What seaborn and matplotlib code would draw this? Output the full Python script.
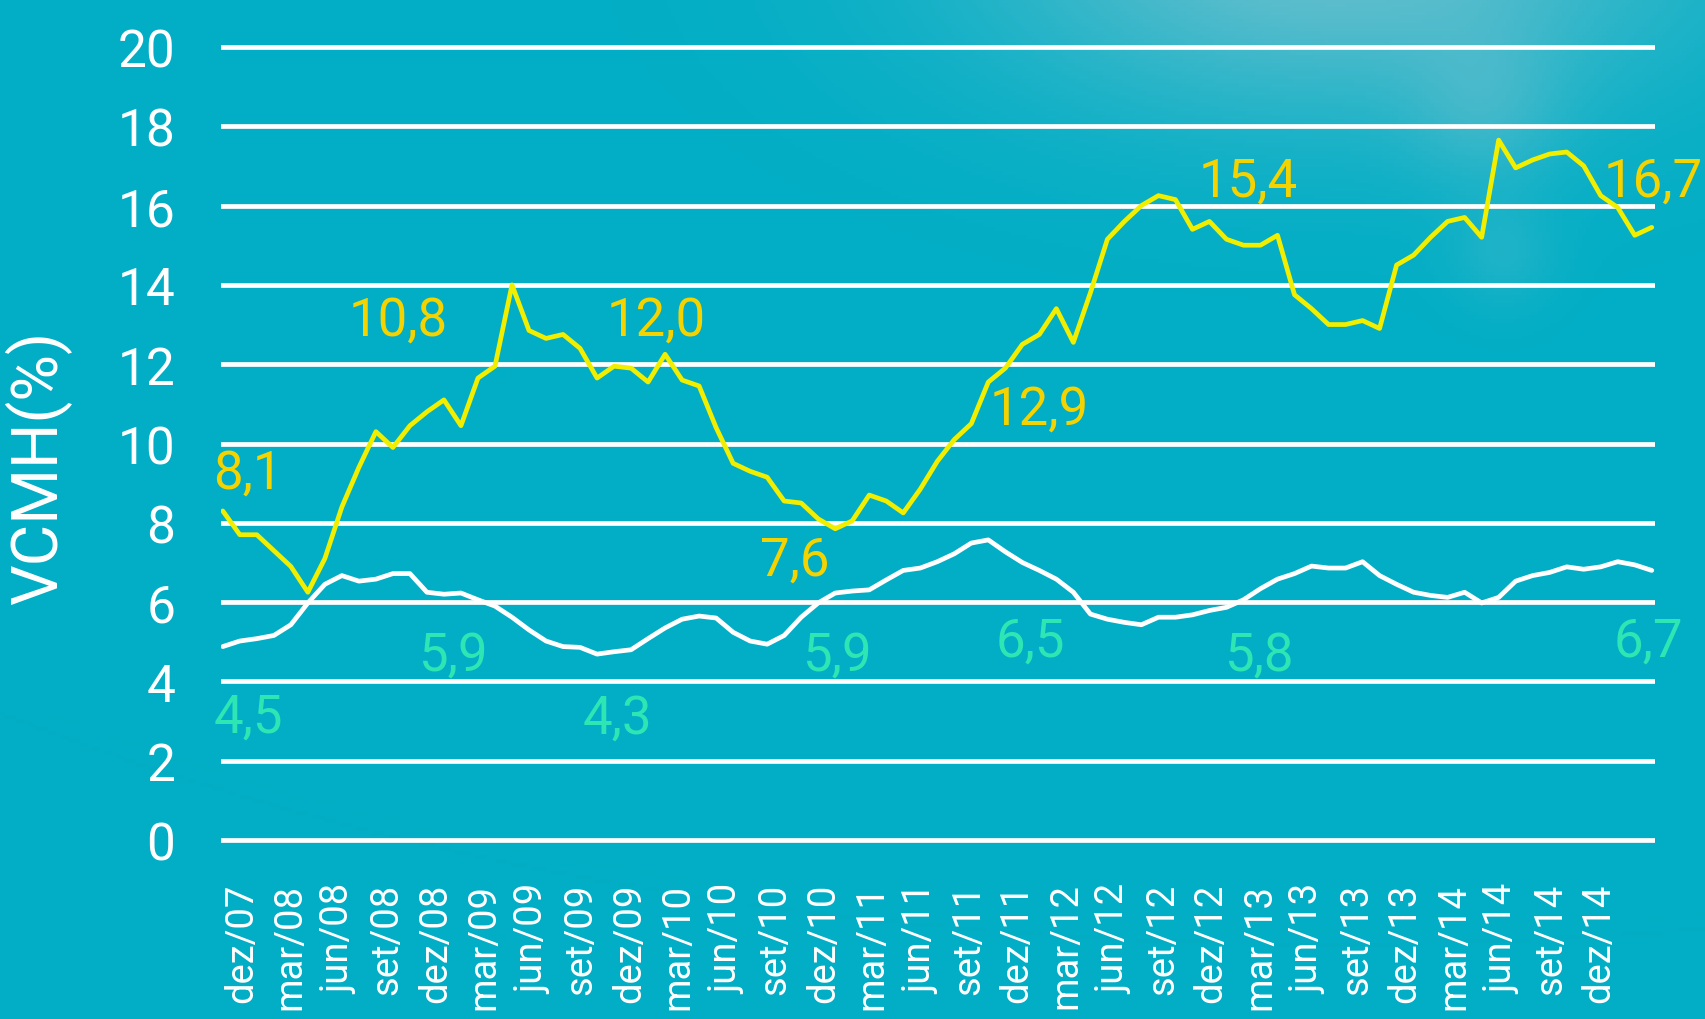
import matplotlib.pyplot as plt
import numpy as np
import pandas as pd
import seaborn as sns

# monthly values, dez/07 .. dez/14
vcmh = [8.3, 7.7, 7.7, 7.3, 6.9, 6.25, 7.1, 8.4, 9.4, 10.3,
        9.9, 10.45, 10.8, 11.1, 10.45, 11.65, 11.95, 14.0, 12.85, 12.65,
        12.75, 12.4, 11.65, 11.95, 11.9, 11.55, 12.25, 11.6, 11.45, 10.4,
        9.5, 9.3, 9.15, 8.55, 8.5, 8.1, 7.85, 8.05, 8.7, 8.55,
        8.25, 8.85, 9.55, 10.1, 10.5, 11.55, 11.9, 12.5, 12.75, 13.4,
        12.55, 13.8, 15.15, 15.6, 16.0, 16.25, 16.15, 15.4, 15.6, 15.15,
        15.0, 15.0, 15.25, 13.75, 13.4, 13.0, 13.0, 13.1, 12.9, 14.5,
        14.75, 15.2, 15.6, 15.7, 15.2, 17.65, 16.95, 17.15, 17.3, 17.35,
        17.0, 16.25, 15.95, 15.25, 15.45]
ipca = [4.88, 5.02, 5.08, 5.16, 5.43, 5.98, 6.45, 6.67, 6.53, 6.58,
        6.72, 6.72, 6.25, 6.2, 6.23, 6.06, 5.9, 5.62, 5.3, 5.02,
        4.88, 4.86, 4.69, 4.75, 4.8, 5.08, 5.35, 5.57, 5.65, 5.6,
        5.24, 5.02, 4.94, 5.16, 5.62, 5.98, 6.23, 6.28, 6.31, 6.56,
        6.8, 6.86, 7.02, 7.22, 7.49, 7.57, 7.27, 7.0, 6.8, 6.58,
        6.25, 5.7, 5.57, 5.49, 5.43, 5.62, 5.62, 5.68, 5.79, 5.87,
        6.06, 6.34, 6.58, 6.72, 6.91, 6.86, 6.86, 7.02, 6.67, 6.45,
        6.25, 6.17, 6.12, 6.25, 5.98, 6.12, 6.53, 6.67, 6.75, 6.89,
        6.83, 6.89, 7.02, 6.94, 6.8]

tick_labels = ['dez/07', 'mar/08', 'jun/08', 'set/08', 'dez/08', 'mar/09',
               'jun/09', 'set/09', 'dez/09', 'mar/10', 'jun/10', 'set/10',
               'dez/10', 'mar/11', 'jun/11', 'set/11', 'dez/11', 'mar/12',
               'jun/12', 'set/12', 'dez/12', 'mar/13', 'jun/13', 'set/13',
               'dez/13', 'mar/14', 'jun/14', 'set/14', 'dez/14']

vcmh_labels = ['8,1', '10,8', '12,0', '7,6', '12,9', '15,4', '16,7']
ipca_labels = ['4,5', '5,9', '4,3', '5,9', '6,5', '5,8', '6,7']

# where the value labels sit (x in months, y at baseline)
vcmh_label_pos = [(1.5, 8.9), (10.3, 12.75), (25.5, 12.75), (33.6, 6.7),
                  (48.0, 10.5), (60.3, 16.25), (84.1, 16.25)]
ipca_label_pos = [(1.5, 2.75), (13.5, 4.3), (23.2, 2.72), (36.1, 4.3),
                  (47.5, 4.65), (60.9, 4.3), (83.8, 4.65)]

teal = '#02aec5'
sns.set_theme(style='white', rc={'figure.facecolor': teal,
                                 'axes.facecolor': 'none'})
plt.rcParams['font.family'] = ['Roboto', 'DejaVu Sans']

fig = plt.figure(figsize=(17.06, 10.20), dpi=100)

# background with a soft light in the top right corner
bg = fig.add_axes([0, 0, 1, 1], zorder=-1)
h, w = 255, 427
yy, xx = np.mgrid[0:h, 0:w]
xf, yf = xx / w, yy / h
glow = np.exp(-(((xf - 0.78) / 0.2) ** 2 + ((yf + 0.05) / 0.16) ** 2))
glow += 0.35 * np.exp(-(((xf - 0.87) / 0.045) ** 2 + ((yf - 0.11) / 0.075) ** 2))
glow += 0.25 * np.exp(-(((xf - 0.88) / 0.03) ** 2 + ((yf - 0.25) / 0.05) ** 2))
glow = np.clip(glow, 0, 1)[..., None]
base = np.array([2, 174, 197]) / 255
light = np.array([125, 195, 208]) / 255
bg.imshow(base * (1 - 0.8 * glow) + light * 0.8 * glow,
          extent=[0, 1, 0, 1], aspect='auto')
bg.axis('off')

ax = fig.add_axes([0.1296, 0.1637, 0.8406, 0.801])
df = pd.DataFrame({'mes': range(len(vcmh)), 'vcmh': vcmh, 'ipca': ipca})
sns.lineplot(data=df, x='mes', y='vcmh', color='#f2ee00', lw=3.4, ax=ax,
             zorder=3)
sns.lineplot(data=df, x='mes', y='ipca', color='white', lw=3.4, ax=ax,
             zorder=3)

for txt, (x, y) in zip(vcmh_labels, vcmh_label_pos):
    ax.text(x, y, txt, color='#f5d300', fontsize=38, ha='center',
            va='baseline', zorder=4, clip_on=False)
for txt, (x, y) in zip(ipca_labels, ipca_label_pos):
    ax.text(x, y, txt, color='#2ee6b3', fontsize=38, ha='center',
            va='baseline', zorder=4, clip_on=False)

ax.set_xlim(-0.1, 84.2)
ax.set_ylim(-0.3, 20.3)
ax.set_yticks(range(0, 21, 2))
ax.set_xticks(np.linspace(1.1, 80.9, len(tick_labels)))
ax.set_xticklabels(tick_labels, rotation=90, va='top', ha='center')
ax.grid(axis='y', color='white', lw=3.4)
ax.grid(axis='x', visible=False)
ax.set_axisbelow(True)
sns.despine(ax=ax, left=True, bottom=True)
ax.tick_params(axis='y', length=0, pad=33, labelsize=37, labelcolor='white')
ax.tick_params(axis='x', length=0, pad=22, labelsize=27.5, labelcolor='white')

ax.set_xlabel('')
ax.set_ylabel('VCMH(%)', fontsize=46, color='white')
ax.yaxis.set_label_coords(-0.104, 0.471)

fig.savefig('out.png', dpi=100, facecolor=teal)
